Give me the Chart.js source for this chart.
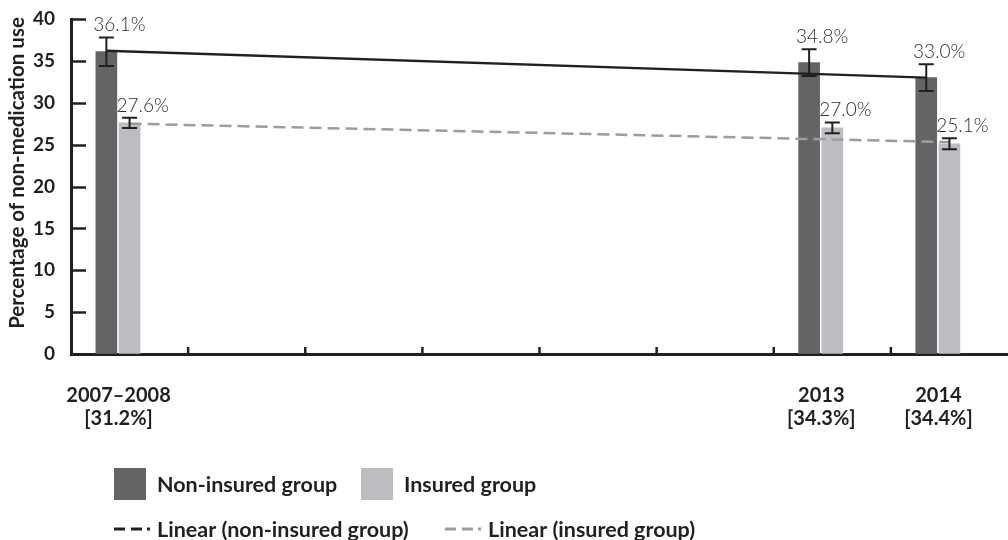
<!DOCTYPE html>
<html>
<head>
<meta charset="utf-8">
<script src="https://cdn.jsdelivr.net/npm/chart.js@4.4.1/dist/chart.umd.min.js"></script>
<style>
  html, body { margin: 0; padding: 0; background: #fff; }
  #wrap { width: 1008px; height: 540px; position: relative; }
</style>
</head>
<body>
<div id="wrap"><canvas id="chart"></canvas></div>
<script>
// Survey periods (bracketed figure = overall share for the period)
const periods = [['2007–2008', '[31.2%]'], '', '', '', '', '', ['2013', '[34.3%]'], ['2014', '[34.4%]']];

// Share of non-medication use, %
const nonInsured = [36.1, null, null, null, null, null, 34.8, 33.0];
const insured    = [27.6, null, null, null, null, null, 27.0, 25.1];

// Error bar half-widths, %
const nonInsuredErr = [1.7, null, null, null, null, null, 1.6, 1.6];
const insuredErr    = [0.6, null, null, null, null, null, 0.65, 0.65];

// Linear trend end points, %
const trendNonInsured = [36.2, null, null, null, null, null, null, 33.0];
const trendInsured    = [27.5, null, null, null, null, null, null, 25.3];

// Value axis
const yTicks = [0, 5, 10, 15, 20, 25, 30, 35, 40];
const yTitle = 'Percentage of non-medication use';

const INK = '#231f20';
const DARK = '#646466';
const LIGHT = '#bcbdc0';
const TREND_GREY = '#9d9d9f';
const BAR_W = 21;        // bar thickness, px
const BAR_STEP = 0.198;  // the non-insured bar sits this far (in period slots) left of the insured one

const decor = {
  id: 'decor',
  afterDatasetsDraw(chart) {
    const ctx = chart.ctx;
    const y = chart.scales.y;
    const groups = [[0, nonInsured, nonInsuredErr], [1, insured, insuredErr]];
    ctx.save();
    groups.forEach(([di, vals, errs]) => {
      const meta = chart.getDatasetMeta(di);
      meta.data.forEach((el, i) => {
        const v = vals[i];
        if (v == null) return;
        const e = errs[i];
        const yt = y.getPixelForValue(v + e);
        const yb = y.getPixelForValue(v - e);
        ctx.strokeStyle = INK;
        ctx.lineWidth = 2;
        ctx.beginPath();
        ctx.moveTo(el.x, yt); ctx.lineTo(el.x, yb);
        ctx.moveTo(el.x - 7.5, yt); ctx.lineTo(el.x + 7.5, yt);
        ctx.moveTo(el.x - 7.5, yb); ctx.lineTo(el.x + 7.5, yb);
        ctx.stroke();
        ctx.fillStyle = '#2e2e2e';
        ctx.font = '300 19px Lato';
        ctx.textAlign = 'center';
        ctx.textBaseline = 'alphabetic';
        ctx.fillText(v.toFixed(1) + '%', el.x + 13, yt - 6);
      });
    });
    ctx.restore();
  },
  afterDraw(chart) {
    const ctx = chart.ctx;
    const x = chart.scales.x;
    const y = chart.scales.y;
    const area = chart.chartArea;
    ctx.save();
    ctx.strokeStyle = INK;
    ctx.lineWidth = 2.5;
    // inward tick marks on the value axis
    yTicks.forEach(t => {
      if (t === 0) return;
      const py = Math.round(y.getPixelForValue(t)) + 0.5;
      ctx.beginPath(); ctx.moveTo(area.left, py); ctx.lineTo(area.left + 15, py); ctx.stroke();
    });
    // inward tick marks between periods
    for (let i = 1; i < periods.length; i++) {
      const px = (x.getPixelForValue(i - 1) + x.getPixelForValue(i)) / 2;
      ctx.beginPath(); ctx.moveTo(px, area.bottom); ctx.lineTo(px, area.bottom - 7); ctx.stroke();
    }
    // rotated value-axis title
    ctx.fillStyle = INK;
    ctx.font = 'bold 20.5px Lato';
    ctx.textAlign = 'center';
    ctx.textBaseline = 'middle';
    ctx.translate(17, 173);
    ctx.rotate(-Math.PI / 2);
    ctx.fillText(yTitle, 0, 0);
    ctx.setTransform(1, 0, 0, 1, 0, 0);

    // legend
    const ds = chart.data.datasets;
    const items = [
      { d: 0, x: 114, y: 484, kind: 'box' },
      { d: 1, x: 361, y: 484, kind: 'box' },
      { d: 2, x: 114, y: 529, kind: 'line' },
      { d: 3, x: 445, y: 529, kind: 'line' }
    ];
    ctx.font = 'bold 21.5px Lato';
    ctx.textAlign = 'left';
    ctx.textBaseline = 'middle';
    items.forEach(it => {
      const d = ds[it.d];
      if (it.kind === 'box') {
        ctx.fillStyle = d.backgroundColor;
        ctx.fillRect(it.x, it.y - 16, 32, 32);
      } else {
        ctx.strokeStyle = d.borderColor;
        ctx.lineWidth = 3;
        ctx.setLineDash([11, 6, 11, 5, 3, 60]);
        ctx.beginPath(); ctx.moveTo(it.x, it.y); ctx.lineTo(it.x + 36, it.y); ctx.stroke();
        ctx.setLineDash([]);
      }
      ctx.fillStyle = INK;
      ctx.fillText(d.label, it.x + 43, it.y + 1);
    });
    ctx.restore();
  }
};

new Chart(document.getElementById('chart'), {
  data: {
    labels: periods,
    datasets: [
      { type: 'bar', label: 'Non-insured group', xAxisID: 'xDark',
        data: nonInsured.map((v, i) => ({ x: i, y: v })),
        backgroundColor: DARK, order: 2 },
      { type: 'bar', label: 'Insured group', xAxisID: 'x', data: insured,
        backgroundColor: LIGHT, order: 2 },
      { type: 'line', label: 'Linear (non-insured group)', xAxisID: 'xDark',
        data: trendNonInsured.map((v, i) => ({ x: i, y: v })),
        borderColor: INK, borderWidth: 2.5, pointRadius: 0, spanGaps: true, order: 1 },
      { type: 'line', label: 'Linear (insured group)', xAxisID: 'x', data: trendInsured,
        borderColor: TREND_GREY, borderWidth: 2.5, borderDash: [12, 6], pointRadius: 0, spanGaps: true, order: 1 }
    ]
  },
  options: {
    responsive: true,
    maintainAspectRatio: false,
    animation: false,
    devicePixelRatio: 1,
    layout: { padding: { top: 19, right: 0, left: 0, bottom: 0 } },
    datasets: { bar: { grouped: false, barThickness: BAR_W } },
    plugins: { legend: { display: false }, tooltip: { enabled: false } },
    scales: {
      x: {
        type: 'category',
        offset: true,
        grid: { drawOnChartArea: false, drawTicks: false },
        border: { display: true, color: INK, width: 3 },
        ticks: {
          color: INK,
          font: { family: 'Lato', weight: 'bold', size: 20, lineHeight: 1.15 },
          padding: 30,
          labelOffset: -11,
          maxRotation: 0,
          autoSkip: false
        },
        afterFit: s => { s.height = 186; s.paddingLeft = 0; s.paddingRight = 0; }
      },
      xDark: {
        type: 'linear',
        display: false,
        offset: false,
        grid: { offset: false },
        min: -0.5 + BAR_STEP,
        max: periods.length - 0.5 + BAR_STEP
      },
      y: {
        min: 0,
        max: 40,
        afterBuildTicks: s => { s.ticks = yTicks.map(v => ({ value: v })); },
        grid: { drawOnChartArea: false, drawTicks: false },
        border: { display: true, color: INK, width: 3 },
        ticks: {
          color: INK,
          font: { family: 'Lato', weight: 'bold', size: 19 },
          padding: 16
        },
        afterFit: s => { s.width = 71; s.paddingTop = 0; s.paddingBottom = 0; }
      }
    }
  },
  plugins: [decor]
});
</script>
</body>
</html>
